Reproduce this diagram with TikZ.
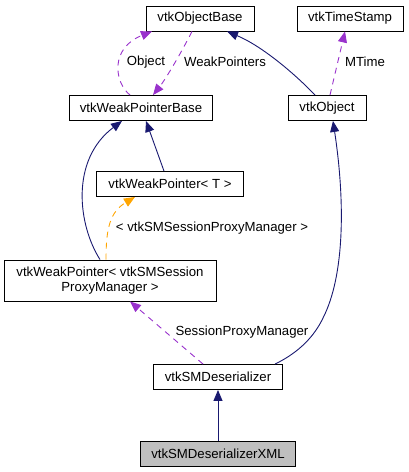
\documentclass[tikz,border=0pt]{standalone}
\usepackage{fontspec}
\setmainfont{Liberation Sans}
\usetikzlibrary{arrows.meta}
\definecolor{inhcol}{RGB}{25,25,112}
\definecolor{usecol}{RGB}{153,50,204}
\definecolor{tplcol}{RGB}{255,165,0}
\begin{document}
\begin{tikzpicture}[
  x=1pt, y=-1pt,
  cls/.style={draw, line width=0.9pt, fill=white, minimum height=25pt, inner sep=2pt,
    font=\fontsize{13.2}{15}\selectfont, align=center},
  inherit/.style={draw=inhcol, line width=0.9pt, -{Triangle[length=11pt,width=9pt]}, inhcol},
  usage/.style={draw=usecol, line width=0.9pt, dash pattern=on 6pt off 5pt,
    -{Triangle[length=11pt,width=9pt]}, usecol},
  templ/.style={draw=tplcol, line width=0.9pt, dash pattern=on 6pt off 5pt,
    -{Triangle[length=11pt,width=9pt]}, tplcol},
  lbl/.style={font=\fontsize{13.2}{15}\selectfont}]
    \useasboundingbox (0,0) rectangle (409,472);
    % Top row of classes
    \node[cls, minimum width=108pt] (ob) at (200,18.5) {vtkObjectBase};
    \node[cls, minimum width=106pt] (ts) at (350,18.5) {vtkTimeStamp};
    % Second row
    \node[cls, minimum width=143pt] (wpb) at (141,108) {vtkWeakPointerBase};
    \node[cls, minimum width=78pt] (obj) at (327,108) {vtkObject};
    % Weak pointer template and its instance
    \node[cls, minimum width=147pt] (wpt) at (170,184) {vtkWeakPointer< T >};
    \node[cls, minimum width=212pt, minimum height=41pt] (wps) at (110,280.5)
      {vtkWeakPointer< vtkSMSession\\ProxyManager >};
    % Deserializers at the bottom
    \node[cls, minimum width=129pt] (smd) at (218,377) {vtkSMDeserializer};
    \node[cls, minimum width=155pt, fill=black!25] (xml) at (218,453.5) {vtkSMDeserializerXML};
    % Members between vtkObjectBase and vtkWeakPointerBase
    \draw[usage] ([xshift=-11pt]wpb.north) .. controls (114,82) and (110,48) .. ([xshift=-48pt]ob.south);
    \draw[usage] ([xshift=-8pt]ob.south) .. controls (180,55) and (165,80) .. ([xshift=12pt]wpb.north);
    \node[lbl] (lobj) at (146,62) {Object};
    \node[lbl] (lwp) at (225,62) {WeakPointers};
    % vtkObject
    \draw[inherit] ([xshift=-12pt]obj.north) .. controls (295,74) and (262,46) .. ([xshift=27pt]ob.south);
    \draw[usage] ([xshift=3pt]obj.north) -- ([xshift=-5pt]ts.south);
    \node[lbl] (lmt) at (365,62) {MTime};
    % Weak pointers
    \draw[inherit] ([xshift=-6pt]wpt.north) -- ([xshift=5pt]wpb.south);
    \draw[inherit] ([xshift=-10pt]wps.north) .. controls (78,225) and (70,160) .. ([xshift=-19pt]wpb.south);
    \draw[templ] ([xshift=-4pt]wps.north) .. controls (106,228) and (110,212) .. ([xshift=-35pt]wpt.south);
    \node[lbl] (ltpl) at (212,228) {< vtkSMSessionProxyManager >};
    % vtkSMDeserializer
    \draw[usage] ([xshift=-15pt]smd.north) -- ([xshift=20pt]wps.south);
    \node[lbl] (lspm) at (242,332) {SessionProxyManager};
    \draw[inherit] ([xshift=57pt]smd.north) .. controls (300,352) and (315,335) .. (323,318)
      .. controls (345,275) and (345,200) .. ([xshift=6pt]obj.south);
    \draw[inherit] (xml) -- (smd);
\end{tikzpicture}
\end{document}
